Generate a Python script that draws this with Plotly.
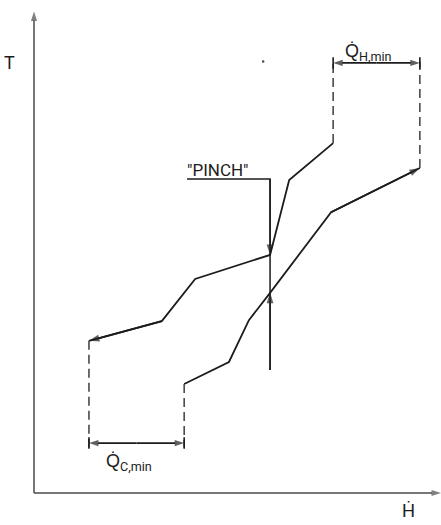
import plotly.graph_objects as go

# ---- data (H and T in arbitrary units, origin at the axes corner) ----
hot_H = [73.5, 62.7, 58.0, 39.6, 31.4, 13.5]
hot_T = [72.9, 65.2, 49.6, 44.6, 35.8, 31.7]
cold_H = [36.9, 47.9, 52.8, 58.0, 73.0, 94.8]
cold_T = [22.7, 27.3, 36.0, 41.7, 58.5, 67.7]

T_top_dash = 90.2      # upper end of dashed verticals
T_bot_dash = 9.5       # lower end of dashed verticals
T_QH = 89.6            # level of Q_H,min dimension arrow
T_QC = 10.4            # level of Q_C,min dimension arrow

pinch_H = 58.0
pinch_T_top = 65.4
pinch_T_bot = 25.6
pinch_H_left = 37.6

H_max = 100.0
T_max = 100.3

speck_H = [56.3]
speck_T = [89.9]

INK = "#1c1c1c"
GREY = "#4a4a4a"
FONT = "Roboto, sans-serif"

fig = go.Figure()

def line(xs, ys, color=INK, width=1.8, dash=None):
    fig.add_trace(go.Scatter(x=xs, y=ys, mode="lines",
                             line=dict(color=color, width=width, dash=dash),
                             hoverinfo="skip"))

def arrow(x, y, ax, ay, color=INK, width=1.6, size=11):
    # line from (ax, ay) to (x, y) with an arrow marker at (x, y)
    fig.add_trace(go.Scatter(x=[ax, x], y=[ay, y], mode="lines+markers",
                             line=dict(color=color, width=width),
                             marker=dict(symbol="arrow", size=[0, size],
                                         angleref="previous", color=color,
                                         line=dict(width=0)),
                             hoverinfo="skip"))

# curves
line(hot_H, hot_T)
line(cold_H, cold_T)

# dashed verticals
line([hot_H[0], hot_H[0], None, cold_H[-1], cold_H[-1], None,
      hot_H[-1], hot_H[-1], None, cold_H[0], cold_H[0]],
     [hot_T[0], T_top_dash, None, cold_T[-1], T_top_dash, None,
      hot_T[-1], T_bot_dash, None, cold_T[0], T_bot_dash],
     color=GREY, width=1.6, dash="9px,5px")

# end bars of dimension arrows
bar = 1.2
line([hot_H[0], hot_H[0], None, cold_H[-1], cold_H[-1], None,
      hot_H[-1], hot_H[-1], None, cold_H[0], cold_H[0]],
     [T_QH - bar, T_QH + bar, None, T_QH - bar, T_QH + bar, None,
      T_QC - bar, T_QC + bar, None, T_QC - bar, T_QC + bar], width=1.6)

# pinch leader line
line([pinch_H_left, pinch_H, pinch_H], [pinch_T_top, pinch_T_top, pinch_T_bot],
     width=1.5)

# speck
fig.add_trace(go.Scatter(x=speck_H, y=speck_T, mode="markers",
                         marker=dict(color=GREY, size=2.5), hoverinfo="skip"))

# axes
arrow(0, T_max, 0, 0, color=GREY, width=1.5, size=10)
arrow(H_max, 0, 0, 0, color=GREY, width=1.5, size=10)

# curve end arrows
arrow(hot_H[-1], hot_T[-1], hot_H[-2], hot_T[-2], width=1.8, size=11)
arrow(cold_H[-1], cold_T[-1], cold_H[-2], cold_T[-2], width=1.8, size=11)

# pinch arrows
arrow(pinch_H, hot_T[2], pinch_H, pinch_T_top, width=1.5, size=11)
arrow(pinch_H, cold_T[3], pinch_H, pinch_T_bot, width=1.5, size=11)

# dimension arrows (two halves, each with its own head)
mid_QH = (hot_H[0] + cold_H[-1]) / 2
mid_QC = (hot_H[-1] + cold_H[0]) / 2
arrow(cold_H[-1], T_QH, mid_QH, T_QH, width=1.6, size=10)
arrow(hot_H[0], T_QH, mid_QH, T_QH, width=1.6, size=10)
arrow(cold_H[0], T_QC, mid_QC, T_QC, width=1.6, size=10)
arrow(hot_H[-1], T_QC, mid_QC, T_QC, width=1.6, size=10)

def label(x, y, text, size):
    fig.add_annotation(x=x, y=y, xref="x", yref="y", text=text,
                       showarrow=False,
                       font=dict(family=FONT, size=size, color=INK))

label(-5.9, 89.6, "T", 18)
label(91.9, -3.6, "Ḣ", 18)
label(45.2, 67.3, "\"PINCH\"", 17)
label(82.1, 91.8, "Q\u0307<sub>H,min</sub>", 18)
label(23.3, 6.4, "Q\u0307<sub>C,min</sub>", 18)

fig.update_layout(
    width=441, height=525,
    margin=dict(l=0, r=0, t=0, b=0),
    paper_bgcolor="white", plot_bgcolor="white",
    showlegend=False,
    xaxis=dict(range=[-8.354, 100.0], visible=False, fixedrange=True),
    yaxis=dict(range=[-6.667, 102.708], visible=False, fixedrange=True),
)

fig.write_html("out.html", config={"displayModeBar": False},
               post_script="document.body.style.margin='0';")
